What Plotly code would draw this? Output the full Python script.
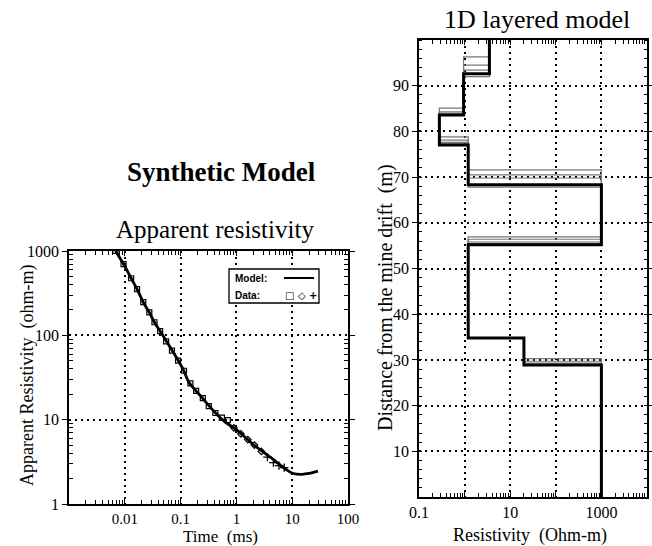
import plotly.graph_objects as go

# ---------------- data: apparent resistivity ----------------
model_t = [0.0068, 0.0095, 0.013, 0.0166, 0.0214, 0.0275, 0.034, 0.047, 0.074, 0.11, 0.14,
           0.23, 0.4, 0.6, 1.0, 2.07, 4.8, 7.0, 10.5, 15.0, 20.0, 29.0]
model_rho = [1000, 700, 475, 353, 247, 187, 143, 102, 63, 40, 28,
             19, 12.5, 9.6, 7.6, 5.0, 3.3, 2.7, 2.3, 2.25, 2.3, 2.45]

sq_t = [0.0068, 0.0095, 0.013, 0.0166, 0.0214, 0.0275, 0.034, 0.043, 0.055, 0.07, 0.09,
        0.115, 0.15, 0.19, 0.25, 0.32, 0.42, 0.55, 0.7]
sq_rho = [1000, 700, 475, 353, 247, 187, 143, 112, 85, 66, 50,
          38, 27, 22, 18, 14.5, 12, 10.6, 9.9]
dia_t = [0.9, 1.2, 1.6, 2.1, 2.8]
dia_rho = [8.0, 6.8, 5.8, 5.0, 4.2]
plus_t = [3.6, 4.6, 5.8, 7.2]
plus_rho = [3.6, 3.1, 2.85, 2.7]

# ---------------- data: 1D layered model ----------------
layer_rho = [3.5, 0.95, 0.28, 1.2, 1000, 1.2, 20, 1000]
best_bounds = [92.6, 83.6, 77.0, 68.3, 55.2, 34.8, 28.9]
ens_bounds = [
    [96.3, 85.1, 78.8, 71.6, 56.9, 34.8, 30.3],
    [94.5, 84.3, 78.1, 70.5, 56.4, 34.8, 29.7],
    [93.4, 84.0, 77.6, 69.8, 55.8, 34.8, 29.3],
    [92.0, 83.8, 77.3, 67.8, 55.5, 34.8, 28.9],
]
depth_top, depth_bottom = 100, 0

x_ticks_left = [0.001, 0.01, 0.1, 1, 10, 100]
x_text_left = ["", "0.01", "0.1", "1", "10", "100"]
y_ticks_left = [1, 10, 100, 1000]
x_ticks_right = [0.1, 1, 10, 100, 1000, 10000]
x_text_right = ["0.1", "", "10", "", "1000", ""]
y_ticks_right = [10, 20, 30, 40, 50, 60, 70, 80, 90]


def step_profile(rhos, bounds):
    xs, ys = [], []
    edges = [depth_top] + list(bounds) + [depth_bottom]
    for i, r in enumerate(rhos):
        xs += [r, r]
        ys += [edges[i], edges[i + 1]]
    return xs, ys


def log_minor(lo_exp, hi_exp):
    return [k * 10.0 ** e for e in range(lo_exp, hi_exp) for k in range(2, 10)]


SERIF = "Liberation Serif"
fig = go.Figure()

# left panel
fig.add_trace(go.Scatter(x=model_t, y=model_rho, mode="lines", line=dict(color="black", width=2.8, shape="spline"),
                         xaxis="x", yaxis="y", showlegend=False))
fig.add_trace(go.Scatter(x=sq_t, y=sq_rho, mode="markers",
                         marker=dict(symbol="square-open", size=5, color="black", line=dict(width=1.2)),
                         xaxis="x", yaxis="y", showlegend=False))
fig.add_trace(go.Scatter(x=dia_t, y=dia_rho, mode="markers",
                         marker=dict(symbol="diamond-open", size=5, color="black", line=dict(width=1.2)),
                         xaxis="x", yaxis="y", showlegend=False))
fig.add_trace(go.Scatter(x=plus_t, y=plus_rho, mode="markers",
                         marker=dict(symbol="cross-thin-open", size=6, color="black", line=dict(width=1.3)),
                         xaxis="x", yaxis="y", showlegend=False))

# right panel
for b in ens_bounds:
    xs, ys = step_profile(layer_rho, b)
    fig.add_trace(go.Scatter(x=xs, y=ys, mode="lines", line=dict(color="#777777", width=1.2),
                             xaxis="x2", yaxis="y2", showlegend=False))
xs, ys = step_profile(layer_rho, best_bounds)
fig.add_trace(go.Scatter(x=xs, y=ys, mode="lines", line=dict(color="black", width=3),
                         xaxis="x2", yaxis="y2", showlegend=False))

W, H = 652, 546
def px(x):
    return x / W
def py(y):
    return 1 - y / H

axis_common = dict(showline=True, linecolor="black", linewidth=1.8, mirror="ticks", automargin=False,
                   ticks="outside", ticklen=5, tickwidth=1.3, tickcolor="black",
                   showgrid=True, gridcolor="black", griddash="2px,4px", gridwidth=1.6,
                   zeroline=False, tickfont=dict(family=SERIF, size=16, color="black"))
minor_log = dict(ticks="inside", ticklen=4, tickwidth=1, tickcolor="black", showgrid=False)
xfont = dict(family=SERIF, size=15, color="black")

fig.update_layout(
    width=W, height=H, margin=dict(l=0, r=0, t=0, b=0),
    paper_bgcolor="white", plot_bgcolor="white",
    xaxis=dict(axis_common, type="log", domain=[px(69), px(348)], range=[-3, 2], anchor="y",
               tickvals=x_ticks_left, ticktext=x_text_left, ticks="inside", tickfont=xfont,
               minor=dict(minor_log, tickvals=log_minor(-3, 2))),
    yaxis=dict(axis_common, type="log", domain=[py(504), py(251)], range=[0, 3], anchor="x",
               tickvals=y_ticks_left, ticktext=[str(v) for v in y_ticks_left],
               minor=dict(minor_log, tickvals=log_minor(0, 3))),
    xaxis2=dict(axis_common, type="log", domain=[px(419), px(647)], range=[-1, 4], anchor="y2",
                tickvals=x_ticks_right, ticktext=x_text_right, ticks="inside", tickfont=dict(xfont, size=16),
                minor=dict(minor_log, tickvals=log_minor(-1, 4))),
    yaxis2=dict(axis_common, domain=[py(497), py(40)], range=[0, 100], anchor="x2",
                tickvals=y_ticks_right,
                minor=dict(ticks="inside", ticklen=3, tickwidth=1, tickcolor="black", dtick=2, showgrid=False)),
)

ann = [
    dict(text="<b>Synthetic Model</b>", x=px(221), y=py(172), size=27),
    dict(text="Apparent resistivity", x=px(215), y=py(229), size=25),
    dict(text="1D layered model", x=px(537), y=py(20), size=26),
    dict(text="Time  (ms)", x=px(220), y=py(536), size=17),
    dict(text="Resistivity  (Ohm-m)", x=px(530), y=py(535), size=18),
]
annotations = []
for a in ann:
    annotations.append(dict(text=a["text"], x=a["x"], y=a["y"], xref="paper", yref="paper",
                            showarrow=False, xanchor="center", yanchor="middle",
                            font=dict(family=SERIF, size=a["size"], color="black")))
annotations.append(dict(text="Apparent Resistivity  (ohm-m)", x=px(27), y=py(376), xref="paper", yref="paper",
                        showarrow=False, textangle=-90, xanchor="center", yanchor="middle",
                        font=dict(family=SERIF, size=18, color="black")))
annotations.append(dict(text="Distance from the mine drift  (m)", x=px(385), y=py(298), xref="paper", yref="paper",
                        showarrow=False, textangle=-90, xanchor="center", yanchor="middle",
                        font=dict(family=SERIF, size=20, color="black")))
# legend box content
annotations.append(dict(text="<b>Model:</b>", x=px(233), y=py(278), xref="paper", yref="paper", showarrow=False,
                        xanchor="left", yanchor="middle", font=dict(family="Liberation Sans", size=10, color="black")))
annotations.append(dict(text="<b>Data:</b>", x=px(233), y=py(295), xref="paper", yref="paper", showarrow=False,
                        xanchor="left", yanchor="middle", font=dict(family="Liberation Sans", size=10, color="black")))
annotations.append(dict(text="<b>□ ◇ +</b>", x=px(283), y=py(295), xref="paper", yref="paper", showarrow=False,
                        xanchor="left", yanchor="middle", font=dict(family="DejaVu Sans", size=10, color="black")))
fig.update_layout(annotations=annotations)

fig.add_shape(type="rect", xref="paper", yref="paper", x0=px(229), x1=px(319), y0=py(303), y1=py(269),
              line=dict(color="black", width=1.3), fillcolor="white", layer="above")
fig.add_shape(type="line", xref="paper", yref="paper", x0=px(284), x1=px(314), y0=py(278), y1=py(278),
              line=dict(color="black", width=2))

fig.write_html("out.html", post_script="document.body.style.margin='0';document.body.style.overflow='hidden';")
